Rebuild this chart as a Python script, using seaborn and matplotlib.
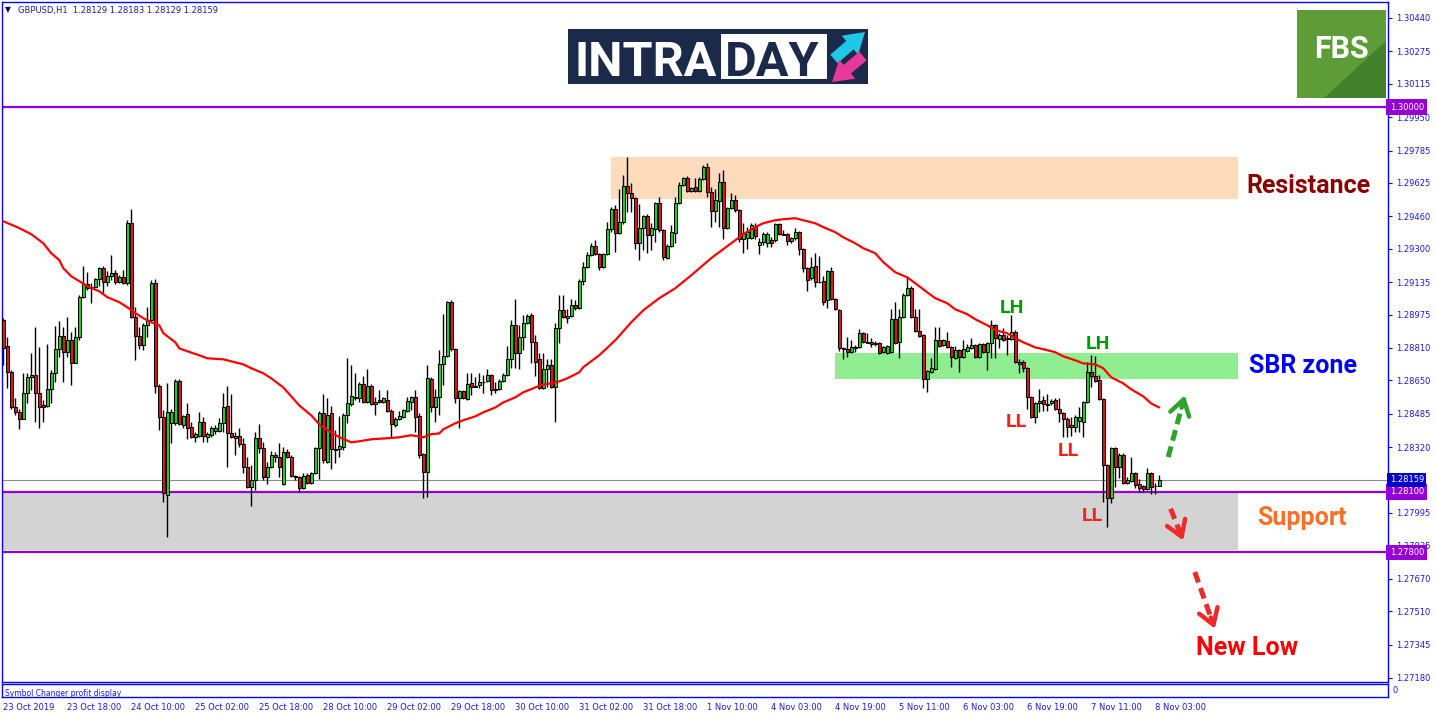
import numpy as np
import pandas as pd
import matplotlib
matplotlib.use("Agg")
import matplotlib.pyplot as plt
import matplotlib.transforms as mtransforms
from matplotlib.patches import Rectangle, Polygon
import seaborn as sns

# GBPUSD H1 candles (bar 0 = 23 Oct 2019, 02:00)
opens = [
    1.28947, 1.28818, 1.28690, 1.28516, 1.28492, 1.28457, 1.28586, 1.28665, 1.28675, 1.28586,
    1.28526, 1.28521, 1.28606, 1.28685, 1.28804, 1.28868, 1.28789, 1.28848, 1.28734, 1.28863,
    1.29061, 1.29125, 1.29105, 1.29110, 1.29150, 1.29204, 1.29135, 1.29164, 1.29179, 1.29135,
    1.29159, 1.29130, 1.29426, 1.28962, 1.28868, 1.28823, 1.28922, 1.28947, 1.29130, 1.28620,
    1.28467, 1.28082, 1.28438, 1.28438, 1.28645, 1.28428, 1.28482, 1.28418, 1.28369, 1.28374,
    1.28443, 1.28369, 1.28379, 1.28398, 1.28398, 1.28438, 1.28521, 1.28388, 1.28364, 1.28374,
    1.28334, 1.28220, 1.28121, 1.28156, 1.28364, 1.28314, 1.28171, 1.28220, 1.28280, 1.28270,
    1.28136, 1.28294, 1.28270, 1.28176, 1.28171, 1.28116, 1.28181, 1.28141, 1.28190, 1.28314,
    1.28487, 1.28245, 1.28487, 1.28309, 1.28309, 1.28319, 1.28477, 1.28531, 1.28566, 1.28561,
    1.28630, 1.28541, 1.28620, 1.28531, 1.28551, 1.28541, 1.28551, 1.28497, 1.28428, 1.28457,
    1.28467, 1.28497, 1.28541, 1.28566, 1.28472, 1.28285, 1.28195, 1.28655, 1.28516, 1.28566,
    1.28729, 1.28769, 1.29036, 1.28804, 1.28561, 1.28596, 1.28556, 1.28635, 1.28620, 1.28625,
    1.28640, 1.28645, 1.28675, 1.28606, 1.28606, 1.28645, 1.28675, 1.28754, 1.28922, 1.28784,
    1.28863, 1.28932, 1.28972, 1.28838, 1.28754, 1.28610, 1.28705, 1.28724, 1.28615, 1.28907,
    1.28996, 1.28957, 1.28967, 1.29021, 1.29006, 1.29140, 1.29209, 1.29268, 1.29313, 1.29273,
    1.29209, 1.29273, 1.29397, 1.29496, 1.29377, 1.29431, 1.29610, 1.29575, 1.29550, 1.29327,
    1.29402, 1.29461, 1.29367, 1.29397, 1.29525, 1.29392, 1.29253, 1.29313, 1.29377, 1.29525,
    1.29615, 1.29649, 1.29585, 1.29605, 1.29585, 1.29644, 1.29703, 1.29580, 1.29486, 1.29535,
    1.29629, 1.29402, 1.29501, 1.29540, 1.29491, 1.29347, 1.29352, 1.29352, 1.29407, 1.29318,
    1.29332, 1.29327, 1.29342, 1.29342, 1.29422, 1.29372, 1.29372, 1.29337, 1.29352, 1.29382,
    1.29298, 1.29204, 1.29155, 1.29214, 1.29135, 1.29140, 1.29046, 1.29189, 1.29051, 1.28996,
    1.28808, 1.28804, 1.28789, 1.28813, 1.28813, 1.28883, 1.28838, 1.28838, 1.28828, 1.28833,
    1.28789, 1.28784, 1.28789, 1.28952, 1.28838, 1.28962, 1.29071, 1.29105, 1.28962, 1.28893,
    1.28873, 1.28655, 1.28690, 1.28705, 1.28848, 1.28823, 1.28843, 1.28813, 1.28759, 1.28799,
    1.28764, 1.28794, 1.28808, 1.28823, 1.28764, 1.28828, 1.28789, 1.28833, 1.28922, 1.28853,
    1.28873, 1.28858, 1.28853, 1.28888, 1.28739, 1.28739, 1.28710, 1.28566, 1.28467, 1.28536,
    1.28551, 1.28531, 1.28536, 1.28551, 1.28507, 1.28487, 1.28457, 1.28418, 1.28418, 1.28448,
    1.28443, 1.28541, 1.28690, 1.28670, 1.28650, 1.28556, 1.28230, 1.28067, 1.28314, 1.28220,
    1.28280, 1.28141, 1.28151, 1.28190, 1.28136, 1.28126, 1.28111, 1.28190, 1.28126, 1.28129,
]
highs = [
    1.28957, 1.28863, 1.28700, 1.28561, 1.28511, 1.28685, 1.28685, 1.28784, 1.28912, 1.28813,
    1.28551, 1.28828, 1.28700, 1.28917, 1.28942, 1.28912, 1.28962, 1.28888, 1.28912, 1.29071,
    1.29214, 1.29184, 1.29130, 1.29155, 1.29209, 1.29214, 1.29189, 1.29268, 1.29194, 1.29169,
    1.29194, 1.29441, 1.29496, 1.29011, 1.28912, 1.28932, 1.29011, 1.29145, 1.29150, 1.28630,
    1.28502, 1.28635, 1.28511, 1.28655, 1.28655, 1.28477, 1.28536, 1.28443, 1.28393, 1.28492,
    1.28467, 1.28393, 1.28423, 1.28428, 1.28462, 1.28586, 1.28620, 1.28581, 1.28393, 1.28413,
    1.28364, 1.28270, 1.28230, 1.28393, 1.28433, 1.28344, 1.28245, 1.28299, 1.28294, 1.28339,
    1.28319, 1.28309, 1.28280, 1.28181, 1.28176, 1.28190, 1.28190, 1.28195, 1.28319, 1.28497,
    1.28581, 1.28561, 1.28521, 1.28403, 1.28472, 1.28487, 1.28759, 1.28724, 1.28685, 1.28640,
    1.28670, 1.28705, 1.28630, 1.28566, 1.28601, 1.28566, 1.28601, 1.28507, 1.28467, 1.28497,
    1.28511, 1.28566, 1.28571, 1.28601, 1.28487, 1.28289, 1.28724, 1.28665, 1.28606, 1.28799,
    1.28977, 1.29041, 1.29046, 1.28808, 1.28601, 1.28601, 1.28685, 1.28685, 1.28665, 1.28685,
    1.28675, 1.28705, 1.28680, 1.28640, 1.28655, 1.28685, 1.28818, 1.28947, 1.29051, 1.28922,
    1.28972, 1.28977, 1.28982, 1.28873, 1.28784, 1.28784, 1.28754, 1.28754, 1.28932, 1.29071,
    1.29071, 1.29001, 1.29051, 1.29046, 1.29150, 1.29234, 1.29283, 1.29327, 1.29342, 1.29278,
    1.29278, 1.29431, 1.29506, 1.29516, 1.29595, 1.29664, 1.29753, 1.29624, 1.29555, 1.29521,
    1.29466, 1.29471, 1.29426, 1.29530, 1.29555, 1.29397, 1.29322, 1.29417, 1.29555, 1.29629,
    1.29654, 1.29659, 1.29605, 1.29649, 1.29654, 1.29713, 1.29723, 1.29605, 1.29595, 1.29674,
    1.29689, 1.29506, 1.29575, 1.29565, 1.29496, 1.29426, 1.29407, 1.29426, 1.29426, 1.29352,
    1.29382, 1.29382, 1.29357, 1.29426, 1.29426, 1.29392, 1.29377, 1.29357, 1.29402, 1.29387,
    1.29303, 1.29209, 1.29258, 1.29278, 1.29263, 1.29164, 1.29194, 1.29209, 1.29056, 1.29001,
    1.28813, 1.28863, 1.28848, 1.28823, 1.28902, 1.28888, 1.28883, 1.28858, 1.28843, 1.28838,
    1.28818, 1.28823, 1.29001, 1.29036, 1.29001, 1.29080, 1.29159, 1.29115, 1.29001, 1.29001,
    1.28878, 1.28700, 1.28759, 1.28912, 1.28912, 1.28853, 1.28888, 1.28818, 1.28818, 1.28804,
    1.28848, 1.28828, 1.28858, 1.28828, 1.28833, 1.28833, 1.28838, 1.28947, 1.28927, 1.28883,
    1.28907, 1.28873, 1.28972, 1.28898, 1.28754, 1.28749, 1.28715, 1.28571, 1.28541, 1.28606,
    1.28571, 1.28581, 1.28556, 1.28561, 1.28561, 1.28492, 1.28467, 1.28467, 1.28477, 1.28516,
    1.28546, 1.28739, 1.28774, 1.28769, 1.28675, 1.28561, 1.28235, 1.28319, 1.28319, 1.28289,
    1.28289, 1.28171, 1.28270, 1.28195, 1.28161, 1.28131, 1.28215, 1.28195, 1.28141, 1.28183,
]
lows = [
    1.28724, 1.28610, 1.28511, 1.28477, 1.28408, 1.28457, 1.28536, 1.28601, 1.28443, 1.28413,
    1.28443, 1.28516, 1.28536, 1.28640, 1.28764, 1.28640, 1.28764, 1.28625, 1.28734, 1.28848,
    1.29056, 1.29095, 1.29031, 1.29110, 1.29115, 1.29080, 1.29115, 1.29145, 1.29125, 1.29130,
    1.29125, 1.29120, 1.28957, 1.28749, 1.28804, 1.28799, 1.28863, 1.28937, 1.28586, 1.28403,
    1.28047, 1.27874, 1.28339, 1.28428, 1.28428, 1.28413, 1.28359, 1.28364, 1.28344, 1.28369,
    1.28344, 1.28344, 1.28369, 1.28384, 1.28393, 1.28393, 1.28220, 1.28364, 1.28280, 1.28319,
    1.28190, 1.28116, 1.28027, 1.28106, 1.28289, 1.28156, 1.28136, 1.28215, 1.28245, 1.28171,
    1.28131, 1.28265, 1.28171, 1.28156, 1.28101, 1.28111, 1.28136, 1.28136, 1.28185, 1.28161,
    1.28240, 1.28240, 1.28210, 1.28240, 1.28270, 1.28304, 1.28438, 1.28521, 1.28551, 1.28541,
    1.28536, 1.28536, 1.28526, 1.28477, 1.28536, 1.28536, 1.28492, 1.28364, 1.28418, 1.28453,
    1.28462, 1.28492, 1.28502, 1.28393, 1.28265, 1.28067, 1.28072, 1.28492, 1.28443, 1.28477,
    1.28625, 1.28764, 1.28794, 1.28536, 1.28413, 1.28556, 1.28551, 1.28576, 1.28615, 1.28610,
    1.28586, 1.28640, 1.28576, 1.28586, 1.28601, 1.28640, 1.28670, 1.28710, 1.28710, 1.28705,
    1.28799, 1.28927, 1.28734, 1.28670, 1.28606, 1.28606, 1.28615, 1.28610, 1.28443, 1.28833,
    1.28957, 1.28932, 1.28962, 1.28996, 1.29001, 1.29120, 1.29204, 1.29263, 1.29268, 1.29194,
    1.29204, 1.29268, 1.29382, 1.29283, 1.29372, 1.29422, 1.29481, 1.29481, 1.29298, 1.29244,
    1.29293, 1.29278, 1.29293, 1.29332, 1.29382, 1.29244, 1.29249, 1.29308, 1.29327, 1.29521,
    1.29610, 1.29580, 1.29580, 1.29580, 1.29580, 1.29639, 1.29555, 1.29407, 1.29431, 1.29407,
    1.29347, 1.29397, 1.29496, 1.29481, 1.29332, 1.29278, 1.29298, 1.29347, 1.29347, 1.29273,
    1.29318, 1.29308, 1.29308, 1.29332, 1.29367, 1.29367, 1.29318, 1.29327, 1.29342, 1.29268,
    1.29184, 1.29090, 1.29145, 1.29110, 1.29130, 1.29021, 1.29006, 1.29046, 1.28996, 1.28794,
    1.28754, 1.28764, 1.28784, 1.28789, 1.28808, 1.28833, 1.28833, 1.28813, 1.28818, 1.28779,
    1.28784, 1.28779, 1.28784, 1.28828, 1.28759, 1.28957, 1.29066, 1.28957, 1.28888, 1.28863,
    1.28610, 1.28591, 1.28685, 1.28700, 1.28813, 1.28818, 1.28808, 1.28715, 1.28754, 1.28690,
    1.28759, 1.28789, 1.28804, 1.28759, 1.28759, 1.28784, 1.28700, 1.28759, 1.28759, 1.28808,
    1.28843, 1.28774, 1.28848, 1.28734, 1.28685, 1.28690, 1.28507, 1.28462, 1.28438, 1.28492,
    1.28497, 1.28497, 1.28526, 1.28502, 1.28443, 1.28369, 1.28369, 1.28374, 1.28393, 1.28393,
    1.28369, 1.28536, 1.28615, 1.28640, 1.28551, 1.28047, 1.27924, 1.28042, 1.28121, 1.28166,
    1.28136, 1.28136, 1.28146, 1.28116, 1.28101, 1.28101, 1.28106, 1.28087, 1.28087, 1.28129,
]
closes = [
    1.28808, 1.28690, 1.28516, 1.28492, 1.28457, 1.28586, 1.28665, 1.28675, 1.28586, 1.28516,
    1.28516, 1.28606, 1.28685, 1.28804, 1.28868, 1.28789, 1.28848, 1.28734, 1.28863, 1.29061,
    1.29125, 1.29105, 1.29110, 1.29150, 1.29204, 1.29135, 1.29164, 1.29179, 1.29135, 1.29159,
    1.29130, 1.29426, 1.28962, 1.28868, 1.28823, 1.28922, 1.28947, 1.29130, 1.28620, 1.28467,
    1.28092, 1.28492, 1.28492, 1.28645, 1.28433, 1.28472, 1.28413, 1.28369, 1.28384, 1.28443,
    1.28374, 1.28384, 1.28413, 1.28413, 1.28438, 1.28516, 1.28388, 1.28369, 1.28374, 1.28334,
    1.28220, 1.28121, 1.28156, 1.28364, 1.28314, 1.28171, 1.28220, 1.28280, 1.28270, 1.28220,
    1.28294, 1.28270, 1.28176, 1.28171, 1.28116, 1.28176, 1.28141, 1.28190, 1.28314, 1.28487,
    1.28255, 1.28477, 1.28309, 1.28304, 1.28324, 1.28477, 1.28536, 1.28571, 1.28561, 1.28630,
    1.28541, 1.28620, 1.28531, 1.28541, 1.28541, 1.28561, 1.28497, 1.28433, 1.28457, 1.28472,
    1.28502, 1.28546, 1.28566, 1.28467, 1.28280, 1.28195, 1.28660, 1.28516, 1.28566, 1.28729,
    1.28769, 1.29036, 1.28804, 1.28561, 1.28596, 1.28561, 1.28630, 1.28615, 1.28618, 1.28640,
    1.28643, 1.28675, 1.28601, 1.28604, 1.28645, 1.28675, 1.28754, 1.28922, 1.28784, 1.28863,
    1.28932, 1.28967, 1.28838, 1.28739, 1.28610, 1.28705, 1.28724, 1.28615, 1.28907, 1.28996,
    1.28962, 1.28967, 1.29021, 1.29006, 1.29140, 1.29209, 1.29268, 1.29313, 1.29273, 1.29209,
    1.29273, 1.29397, 1.29496, 1.29377, 1.29431, 1.29610, 1.29575, 1.29550, 1.29327, 1.29402,
    1.29461, 1.29367, 1.29402, 1.29525, 1.29392, 1.29258, 1.29313, 1.29382, 1.29525, 1.29615,
    1.29649, 1.29585, 1.29600, 1.29585, 1.29644, 1.29703, 1.29580, 1.29486, 1.29540, 1.29629,
    1.29402, 1.29501, 1.29540, 1.29491, 1.29347, 1.29377, 1.29382, 1.29417, 1.29362, 1.29332,
    1.29372, 1.29372, 1.29327, 1.29422, 1.29372, 1.29370, 1.29337, 1.29352, 1.29382, 1.29298,
    1.29204, 1.29145, 1.29209, 1.29135, 1.29138, 1.29036, 1.29189, 1.29051, 1.29001, 1.28808,
    1.28806, 1.28789, 1.28813, 1.28811, 1.28883, 1.28838, 1.28836, 1.28828, 1.28833, 1.28784,
    1.28813, 1.28818, 1.28952, 1.28833, 1.28962, 1.29071, 1.29105, 1.28962, 1.28893, 1.28868,
    1.28655, 1.28695, 1.28710, 1.28848, 1.28818, 1.28848, 1.28813, 1.28764, 1.28799, 1.28764,
    1.28804, 1.28813, 1.28823, 1.28764, 1.28828, 1.28789, 1.28833, 1.28922, 1.28858, 1.28873,
    1.28848, 1.28856, 1.28888, 1.28739, 1.28729, 1.28710, 1.28566, 1.28467, 1.28536, 1.28546,
    1.28531, 1.28529, 1.28546, 1.28507, 1.28487, 1.28457, 1.28418, 1.28428, 1.28467, 1.28467,
    1.28541, 1.28690, 1.28670, 1.28645, 1.28556, 1.28230, 1.28067, 1.28314, 1.28220, 1.28280,
    1.28141, 1.28156, 1.28190, 1.28131, 1.28116, 1.28111, 1.28190, 1.28121, 1.28129, 1.28159,
]

# red moving average, read at selected bars
ma_bars = [0, 4, 7, 10, 12, 14, 15, 17, 19, 21,
           24, 26, 29, 31, 33, 35, 37, 39, 40, 43,
           44, 46, 49, 51, 55, 57, 60, 62, 65, 67,
           70, 72, 74, 77, 79, 82, 84, 87, 89, 92,
           96, 99, 102, 105, 107, 109, 110, 113, 115, 118,
           120, 123, 125, 128, 130, 133, 135, 137, 139, 141,
           144, 145, 149, 153, 157, 160, 164, 168, 172, 177,
           180, 183, 185, 188, 190, 193, 195, 198, 200, 203,
           205, 208, 210, 213, 215, 218, 220, 223, 226, 228,
           231, 233, 236, 238, 241, 243, 246, 248, 251, 253,
           255, 258, 260, 263, 265, 268, 270, 273, 275, 277,
           280, 282, 285, 287, 289]
ma_vals = [1.29436, 1.29402, 1.29372, 1.29327, 1.29278, 1.29244, 1.29204, 1.29164, 1.29140, 1.29115,
           1.29090, 1.29061, 1.29036, 1.29011, 1.28982, 1.28957, 1.28937, 1.28922, 1.28883, 1.28838,
           1.28808, 1.28794, 1.28774, 1.28759, 1.28754, 1.28744, 1.28729, 1.28710, 1.28685, 1.28660,
           1.28615, 1.28571, 1.28526, 1.28477, 1.28433, 1.28393, 1.28369, 1.28344, 1.28349, 1.28359,
           1.28364, 1.28369, 1.28379, 1.28369, 1.28384, 1.28388, 1.28408, 1.28438, 1.28453, 1.28472,
           1.28492, 1.28516, 1.28541, 1.28566, 1.28591, 1.28615, 1.28630, 1.28635, 1.28645, 1.28660,
           1.28690, 1.28715, 1.28774, 1.28848, 1.28937, 1.28996, 1.29056, 1.29105, 1.29169, 1.29254,
           1.29298, 1.29342, 1.29372, 1.29407, 1.29426, 1.29441, 1.29446, 1.29451, 1.29441, 1.29426,
           1.29407, 1.29382, 1.29357, 1.29327, 1.29303, 1.29278, 1.29234, 1.29184, 1.29159, 1.29130,
           1.29085, 1.29056, 1.29031, 1.29001, 1.28977, 1.28952, 1.28922, 1.28898, 1.28883, 1.28858,
           1.28838, 1.28813, 1.28804, 1.28789, 1.28769, 1.28749, 1.28734, 1.28729, 1.28710, 1.28665,
           1.28635, 1.28606, 1.28571, 1.28536, 1.28516]

date_bars = [0, 16, 32, 48, 64, 80, 96, 112, 128, 144, 160, 176, 192, 208, 224, 240, 256, 272, 288]
date_labels = ["23 Oct 2019", "23 Oct 18:00", "24 Oct 10:00", "25 Oct 02:00", "25 Oct 18:00",
               "28 Oct 10:00", "29 Oct 02:00", "29 Oct 18:00", "30 Oct 10:00", "31 Oct 02:00",
               "31 Oct 18:00", "1 Nov 10:00", "4 Nov 03:00", "4 Nov 19:00", "5 Nov 11:00",
               "6 Nov 03:00", "6 Nov 19:00", "7 Nov 11:00", "8 Nov 03:00"]

price_ticks = [1.30440, 1.30275, 1.30115, 1.29950, 1.29785, 1.29625, 1.29460, 1.29300, 1.29135,
               1.28975, 1.28810, 1.28650, 1.28485, 1.28320, 1.27995, 1.27835, 1.27670, 1.27510,
               1.27345, 1.27180]
level_prices = [1.30000, 1.28100, 1.27800]
last_price = 1.28159

# zones: resistance, SBR, support
zone_start = [151.9, 207.9, -0.5]
zone_end = [308.7, 308.7, 308.7]
zone_low = [1.29545, 1.28655, 1.27810]
zone_high = [1.29753, 1.28784, 1.28100]
zone_colors = ['#fddbbb', '#90ee90', '#d3d3d3']

sns.set_style("white")
plt.rcParams['font.family'] = ['DejaVu Sans']

W, H = 1436, 716
fig = plt.figure(figsize=(W / 100, H / 100), dpi=100)


def px_axes(x0, y0, x1, y1):
    return fig.add_axes([x0 / W, 1 - y1 / H, (x1 - x0) / W, (y1 - y0) / H])


ax = px_axes(2, 2, 1388, 682)
ax.set_xlim(-0.325, 346.2)
ax.set_ylim(1.27160, 1.30519)

for s, e, lo, hi, col in zip(zone_start, zone_end, zone_low, zone_high, zone_colors):
    ax.add_patch(Rectangle((s, lo), e - s, hi - lo, facecolor=col, edgecolor='none', zorder=1))

for lv in level_prices:
    ax.axhline(lv, color='#9400d3', lw=1.6, zorder=2)
ax.axhline(last_price, color='#8c8c8c', lw=0.8, zorder=2)

# candles
df = pd.DataFrame({'bar': np.arange(len(opens)), 'open': opens, 'high': highs,
                   'low': lows, 'close': closes})
up = df['close'] >= df['open']
ax.vlines(df['bar'], df['low'], df['high'], color='black', lw=1, zorder=3)
body_lo = df[['open', 'close']].min(axis=1)
body_h = (df['close'] - df['open']).abs()
ax.bar(df['bar'], body_h, bottom=body_lo, width=0.7,
       color=np.where(up, '#12dc12', '#e51515'), edgecolor='black', linewidth=0.75, zorder=4)

sns.lineplot(x=ma_bars, y=ma_vals, ax=ax, color='#ff0000', linewidth=1.6, zorder=5)

# right price axis
ax.yaxis.tick_right()
ax.set_yticks(price_ticks)
ax.set_yticklabels([f'{p:.5f}' for p in price_ticks])
ax.tick_params(axis='y', direction='out', length=3, width=0.8, color='#0000ff',
               labelsize=6, labelcolor='#1a1ad6', pad=3)
ax.set_xticks([])
ax.set_xlabel('')
ax.set_ylabel('')
for sp in ax.spines.values():
    sp.set_color('#0000ff')
    sp.set_linewidth(1)

trans = mtransforms.blended_transform_factory(ax.transAxes, ax.transData)
for lv in level_prices:
    ax.text(1.0012, lv, f'{lv:.5f}', transform=trans, ha='left', va='center', fontsize=6,
            color='white', bbox=dict(boxstyle='square,pad=0.4', fc='#9400d3', ec='none'),
            zorder=10, clip_on=False)
ax.text(1.0012, last_price, f'{last_price:.5f}', transform=trans, ha='left', va='center',
        fontsize=6, color='white', bbox=dict(boxstyle='square,pad=0.3', fc='#0000cd', ec='none'),
        zorder=10, clip_on=False)

# annotations
big = dict(fontsize=18, fontweight='bold', family=['Roboto', 'DejaVu Sans'], ha='left', va='baseline', zorder=8)
ax.text(310.7, 1.29576, 'Resistance', color='#8b0000', **big)
ax.text(311.4, 1.28684, 'SBR zone', color='#0000ff', **big)
ax.text(313.4, 1.27938, 'Support', color='#ff6f2a', **big)
ax.text(298.3, 1.27291, 'New Low', color='#ff0000', **big)

small = dict(fontsize=14, fontweight='bold', family=['Roboto', 'DejaVu Sans'], ha='center', va='baseline', zorder=8)
ax.text(252.2, 1.28981, 'LH', color='#009a00', **small)
ax.text(273.7, 1.28807, 'LH', color='#009a00', **small)
ax.text(253.2, 1.28420, 'LL', color='#ff1c1c', **small)
ax.text(266.3, 1.28276, 'LL', color='#ff1c1c', **small)
ax.text(272.3, 1.27955, 'LL', color='#ff1c1c', **small)


def dashed_arrow(x0, y0, x1, y1, col):
    xm = x0 + 0.8 * (x1 - x0)
    ym = y0 + 0.8 * (y1 - y0)
    ax.plot([x0, xm], [y0, ym], color=col, lw=3.6, ls=(0, (2.2, 1.2)), zorder=7,
            solid_capstyle='butt')
    ax.annotate('', xy=(x1, y1), xytext=(xm, ym),
                arrowprops=dict(arrowstyle='->,head_length=0.55,head_width=0.35', color=col,
                                lw=3.2, mutation_scale=20, shrinkA=0, shrinkB=0), zorder=7)


dashed_arrow(291.25, 1.28271, 295.4, 1.28576, '#2ca42c')
dashed_arrow(291.85, 1.28016, 295.0, 1.27859, '#f02a2a')
dashed_arrow(297.9, 1.27703, 302.9, 1.27423, '#f02a2a')

# bottom sub-window with the time axis
sub = px_axes(2, 684, 1388, 697)
sub.set_xlim(ax.get_xlim())
sub.set_ylim(0, 1)
sub.set_yticks([])
sub.set_xticks(date_bars)
sub.set_xticklabels(date_labels, ha='left')
sub.tick_params(axis='x', direction='out', length=3, width=0.8, color='#0000ff',
                labelsize=6, labelcolor='#1a1ad6', pad=1)
for sp in sub.spines.values():
    sp.set_color('#0000ff')
    sp.set_linewidth(1)
sub.text(0.002, 0.3, 'Symbol Changer profit display', transform=sub.transAxes,
         fontsize=5.5, color='#1a1ad6', va='center')
sub.text(1.003, 0.5, '0', transform=sub.transAxes, fontsize=6, color='#1a1ad6', va='center')

# header text
fig.text(5 / W, 1 - 10 / H, '\u25bc', fontsize=5.5, color='#0a0a50', va='center')
fig.text(18 / W, 1 - 10 / H, 'GBPUSD,H1  1.28129 1.28183 1.28129 1.28159',
         fontsize=6, color='#1c1c9c', va='center')

# INTRADAY logo
logo = px_axes(568, 29, 868, 84)
logo.set_xlim(0, 300)
logo.set_ylim(55, 0)
logo.axis('off')
logo.add_patch(Rectangle((0, 0), 300, 55, facecolor='#1b2a4a', edgecolor='none'))
logo.add_patch(Rectangle((153, 5), 106, 45, facecolor='white', edgecolor='none'))
logo.text(6, 47, 'INTRA', color='white', fontsize=35, fontweight='bold',
          family=['Roboto', 'DejaVu Sans'], va='baseline', ha='left')
logo.text(157, 47, 'DAY', color='#1b2a4a', fontsize=35, fontweight='bold',
          family=['Roboto', 'DejaVu Sans'], va='baseline', ha='left')
logo.annotate('', xy=(297, 3), xytext=(266, 30),
              arrowprops=dict(arrowstyle='simple,head_length=0.8,head_width=1.0,tail_width=0.45',
                              fc='#1ec8e6', ec='none', mutation_scale=18, shrinkA=0, shrinkB=0))
logo.annotate('', xy=(264, 53), xytext=(295, 27),
              arrowprops=dict(arrowstyle='simple,head_length=0.8,head_width=1.0,tail_width=0.45',
                              fc='#e8389a', ec='none', mutation_scale=18, shrinkA=0, shrinkB=0))

# FBS logo
fbs = px_axes(1297, 10, 1386, 98)
fbs.set_xlim(0, 1)
fbs.set_ylim(0, 1)
fbs.axis('off')
fbs.add_patch(Rectangle((0, 0), 1, 1, facecolor='#5d9c36', edgecolor='none'))
fbs.add_patch(Polygon([(0.3, 0), (1, 0), (1, 0.65)], closed=True, facecolor='#42802a', edgecolor='none'))
fbs.text(0.5, 0.56, 'FBS', color='white', fontsize=22, fontweight='bold',
         family=['Roboto', 'DejaVu Sans'], ha='center', va='center')

fig.savefig('out.png', dpi=100)
